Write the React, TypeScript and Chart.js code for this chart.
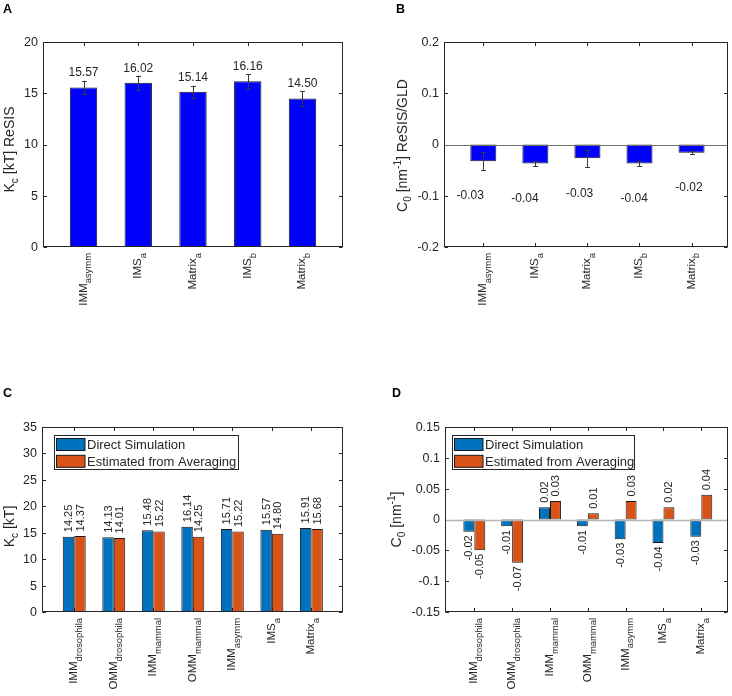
import React, { useEffect, useRef } from 'react';
import { Chart, registerables } from 'chart.js';

Chart.register(...registerables);

const FONT = '"Liberation Sans", Arial, Helvetica, sans-serif';
const INK = '#262626';
const W = 366;
const H = 348;

// ---------- Panel A / B data ----------
const categoriesAB = ['IMM_{asymm}', 'IMS_{a}', 'Matrix_{a}', 'IMS_{b}', 'Matrix_{b}'];
const kcReSIS = [15.57, 16.02, 15.14, 16.16, 14.5];
const kcReSISErr = [0.65, 0.7, 0.6, 0.72, 0.72];
const yTicksA = [0, 5, 10, 15, 20];

const c0ReSIS = [-0.0325, -0.037, -0.027, -0.037, -0.016];
const c0ReSISErr = [0.017, 0.005, 0.017, 0.0055, 0.003];
const yTicksB = [-0.2, -0.1, 0, 0.1, 0.2];

// ---------- Panel C / D data ----------
const categoriesCD = [
  'IMM_{drosophila}',
  'OMM_{drosophila}',
  'IMM_{mammal}',
  'OMM_{mammal}',
  'IMM_{asymm}',
  'IMS_{a}',
  'Matrix_{a}',
];
const seriesNames = ['Direct Simulation', 'Estimated from Averaging'];
const kcDirect = [14.25, 14.13, 15.48, 16.14, 15.71, 15.57, 15.91];
const kcAveraged = [14.37, 14.01, 15.22, 14.25, 15.22, 14.8, 15.68];
const yTicksC = [0, 5, 10, 15, 20, 25, 30, 35];
const c0Direct = [-0.02, -0.011, 0.02, -0.011, -0.032, -0.038, -0.028];
const c0Averaged = [-0.05, -0.07, 0.03, 0.01, 0.03, 0.02, 0.04];
const yTicksD = [-0.15, -0.1, -0.05, 0, 0.05, 0.1, 0.15];

type Series = { values: number[]; color: string; err?: number[]; name?: string };
type Panel = {
  letter: string;
  letterPos: [number, number];
  pos: [number, number];
  area: [number, number, number, number];
  xRange: [number, number];
  yRange: [number, number];
  yTicks: number[];
  categories: string[];
  series: Series[];
  groupWidth: number;
  barWidth: number;
  yTitle: string;
  yTitleX: number;
  yTitleShift: number;
  labelMode: 'above' | 'below' | 'rotated';
  labelSize: number;
  legend?: [number, number, number, number];
  baseline?: { color: string; width: number };
};

const BLUE_AB = '#0000ff';
const BLUE = '#0072bd';
const ORANGE = '#d95319';

const panels: Panel[] = [
  {
    letter: 'A',
    letterPos: [3, 12.5],
    pos: [0, 0],
    area: [43, 42, 343, 247],
    xRange: [0.26, 5.74],
    yRange: [0, 20],
    yTicks: yTicksA,
    categories: categoriesAB,
    series: [{ values: kcReSIS, color: BLUE_AB, err: kcReSISErr }],
    groupWidth: 1,
    barWidth: 0.5,
    yTitle: 'K_{c} [kT] ReSIS',
    yTitleX: 14,
    yTitleShift: 5,
    labelMode: 'above',
    labelSize: 12,
  },
  {
    letter: 'B',
    letterPos: [30, 12.5],
    pos: [366, 0],
    area: [78, 42, 362, 247],
    xRange: [0.245, 5.7],
    yRange: [-0.2, 0.2],
    yTicks: yTicksB,
    categories: categoriesAB,
    series: [{ values: c0ReSIS, color: BLUE_AB, err: c0ReSISErr }],
    groupWidth: 1,
    barWidth: 0.5,
    yTitle: 'C_{0} [nm^{-1}] ReSIS/GLD',
    yTitleX: 41,
    yTitleShift: 1,
    labelMode: 'below',
    labelSize: 12,
    baseline: { color: '#707070', width: 1 },
  },
  {
    letter: 'C',
    letterPos: [3, 48.5],
    pos: [0, 348],
    area: [42, 79, 343, 264],
    xRange: [0.184, 7.8],
    yRange: [0, 35],
    yTicks: yTicksC,
    categories: categoriesCD,
    series: [
      { values: kcDirect, color: BLUE, name: seriesNames[0] },
      { values: kcAveraged, color: ORANGE, name: seriesNames[1] },
    ],
    groupWidth: 0.58,
    barWidth: 1,
    yTitle: 'K_{c} [kT]',
    yTitleX: 14,
    yTitleShift: 7,
    labelMode: 'rotated',
    labelSize: 11,
    legend: [54, 87, 238, 121],
  },
  {
    letter: 'D',
    letterPos: [26, 48.5],
    pos: [366, 348],
    area: [79, 79, 362, 264],
    xRange: [0.225, 7.706],
    yRange: [-0.15, 0.15],
    yTicks: yTicksD,
    categories: categoriesCD,
    series: [
      { values: c0Direct, color: BLUE, name: seriesNames[0] },
      { values: c0Averaged, color: ORANGE, name: seriesNames[1] },
    ],
    groupWidth: 0.58,
    barWidth: 1,
    yTitle: 'C_{0} [nm^{-1}]',
    yTitleX: 35,
    yTitleShift: 0,
    labelMode: 'rotated',
    labelSize: 11,
    legend: [86, 87, 268, 121],
    baseline: { color: '#b4b4b4', width: 1.5 },
  },
];

type Part = { t: string; k: number };
function parseRich(s: string): Part[] {
  const parts: Part[] = [];
  let buf = '';
  let i = 0;
  while (i < s.length) {
    if ((s[i] === '_' || s[i] === '^') && s[i + 1] === '{') {
      if (buf) parts.push({ t: buf, k: 0 });
      buf = '';
      const end = s.indexOf('}', i);
      parts.push({ t: s.slice(i + 2, end), k: s[i] === '_' ? 1 : -1 });
      i = end + 1;
    } else {
      buf += s[i];
      i++;
    }
  }
  if (buf) parts.push({ t: buf, k: 0 });
  return parts;
}

function drawRich(
  ctx: CanvasRenderingContext2D,
  s: string,
  x: number,
  y: number,
  size: number,
  align: 'left' | 'center' | 'right',
  subRatio = 0.72,
  subShift = 0.33,
  supShift = 0.42
) {
  const parts = parseRich(s);
  const sizes = parts.map((p) => (p.k === 0 ? size : size * subRatio));
  const widths = parts.map((p, i) => {
    ctx.font = `${sizes[i]}px ${FONT}`;
    return ctx.measureText(p.t).width;
  });
  const total = widths.reduce((a, b) => a + b, 0);
  let cx = align === 'right' ? x - total : align === 'center' ? x - total / 2 : x;
  ctx.textAlign = 'left';
  ctx.textBaseline = 'alphabetic';
  parts.forEach((p, i) => {
    ctx.font = `${sizes[i]}px ${FONT}`;
    const dy = p.k === 1 ? size * subShift : p.k === -1 ? -size * supShift : 0;
    ctx.fillText(p.t, cx, y + dy);
    cx += widths[i];
  });
}

function drawUnder(chart: any, p: Panel) {
  const ctx: CanvasRenderingContext2D = chart.ctx;
  const xs = chart.scales.x;
  const ys = chart.scales.y;
  const { left, right, top, bottom } = chart.chartArea;
  const L = Math.round(left) + 0.5;
  const R = Math.round(right) - 0.5;
  const T = Math.round(top) + 0.5;
  const B = Math.round(bottom) - 0.5;
  const TL = 3.5;
  ctx.save();
  ctx.strokeStyle = INK;
  ctx.lineWidth = 1;
  ctx.beginPath();
  p.yTicks.forEach((v) => {
    const y = Math.round(ys.getPixelForValue(v)) + 0.5;
    ctx.moveTo(L, y);
    ctx.lineTo(L + TL, y);
    ctx.moveTo(R, y);
    ctx.lineTo(R - TL, y);
  });
  p.categories.forEach((_, i) => {
    const x = Math.round(xs.getPixelForValue(i + 1)) + 0.5;
    ctx.moveTo(x, T);
    ctx.lineTo(x, T + TL);
    ctx.moveTo(x, B);
    ctx.lineTo(x, B - TL);
  });
  ctx.stroke();
  ctx.restore();
}

function drawOver(chart: any, p: Panel) {
  const ctx: CanvasRenderingContext2D = chart.ctx;
  const xs = chart.scales.x;
  const ys = chart.scales.y;
  const { left, right, top, bottom } = chart.chartArea;
  const L = Math.round(left) + 0.5;
  const R = Math.round(right) - 0.5;
  const T = Math.round(top) + 0.5;
  const B = Math.round(bottom) - 0.5;
  ctx.save();

  // baseline at zero
  if (p.baseline) {
    const y0 = Math.round(ys.getPixelForValue(0)) + 0.5;
    ctx.strokeStyle = p.baseline.color;
    ctx.lineWidth = p.baseline.width;
    ctx.beginPath();
    ctx.moveTo(L, y0);
    ctx.lineTo(R, y0);
    ctx.stroke();
  }

  // error bars
  p.series.forEach((s, si) => {
    if (!s.err) return;
    const meta = chart.getDatasetMeta(si);
    ctx.strokeStyle = '#3a3a3a';
    ctx.lineWidth = 1;
    meta.data.forEach((el: any, i: number) => {
      const x = Math.round(el.x) + 0.5;
      const y1 = ys.getPixelForValue(s.values[i] + s.err![i]);
      const y2 = ys.getPixelForValue(s.values[i] - s.err![i]);
      ctx.beginPath();
      ctx.moveTo(x, y1);
      ctx.lineTo(x, y2);
      ctx.moveTo(x - 2.5, Math.round(y1) + 0.5);
      ctx.lineTo(x + 2.5, Math.round(y1) + 0.5);
      ctx.moveTo(x - 2.5, Math.round(y2) + 0.5);
      ctx.lineTo(x + 2.5, Math.round(y2) + 0.5);
      ctx.stroke();
    });
  });

  // axes box
  ctx.strokeStyle = INK;
  ctx.lineWidth = 1;
  ctx.strokeRect(L, T, R - L, B - T);

  ctx.fillStyle = INK;
  // y tick labels
  ctx.font = `12.5px ${FONT}`;
  ctx.textAlign = 'right';
  ctx.textBaseline = 'middle';
  p.yTicks.forEach((v) => {
    ctx.fillText(String(v), left - 5, ys.getPixelForValue(v) + 0.5);
  });

  // x tick labels (rotated, with subscripts)
  p.categories.forEach((c, i) => {
    const x = xs.getPixelForValue(i + 1);
    ctx.save();
    ctx.translate(x, bottom + 6);
    ctx.rotate(-Math.PI / 2);
    drawRich(ctx, c, 0, 3, 11.5, 'right', 0.82, 0.42);
    ctx.restore();
  });

  // y title
  ctx.save();
  ctx.translate(p.yTitleX, (top + bottom) / 2 + p.yTitleShift);
  ctx.rotate(-Math.PI / 2);
  drawRich(ctx, p.yTitle, 0, 0, 14, 'center', 0.72, 0.3, 0.42);
  ctx.restore();

  // value labels
  p.series.forEach((s, si) => {
    const meta = chart.getDatasetMeta(si);
    meta.data.forEach((el: any, i: number) => {
      const v = s.values[i];
      const txt = v.toFixed(2);
      ctx.font = `${p.labelSize}px ${FONT}`;
      if (p.labelMode === 'above') {
        ctx.textAlign = 'center';
        ctx.textBaseline = 'alphabetic';
        ctx.fillText(txt, el.x, ys.getPixelForValue(v) - 11);
      } else if (p.labelMode === 'below') {
        ctx.textAlign = 'center';
        ctx.textBaseline = 'middle';
        const lx = xs.getPixelForValue(1.05 * (i + 1) - 0.3);
        ctx.fillText(txt, lx, ys.getPixelForValue(v - 0.068));
      } else {
        ctx.save();
        if (v >= 0) {
          ctx.translate(el.x + 0.5, ys.getPixelForValue(v) - 4.5);
          ctx.rotate(-Math.PI / 2);
          ctx.textAlign = 'left';
        } else {
          ctx.translate(el.x + 0.5, ys.getPixelForValue(v) + 3.5);
          ctx.rotate(-Math.PI / 2);
          ctx.textAlign = 'right';
        }
        ctx.textBaseline = 'middle';
        ctx.fillText(txt, 0, 0);
        ctx.restore();
      }
    });
  });

  // legend
  if (p.legend) {
    const [gl, gt, gr, gb] = p.legend;
    ctx.fillStyle = '#ffffff';
    ctx.fillRect(gl, gt, gr - gl, gb - gt);
    ctx.strokeStyle = INK;
    ctx.lineWidth = 1;
    ctx.strokeRect(gl + 0.5, gt + 0.5, gr - gl, gb - gt);
    p.series.forEach((s, si) => {
      const cy = gt + 9.5 + si * 16.8;
      ctx.fillStyle = s.color;
      ctx.fillRect(gl + 2.5, cy - 6, 28.5, 12);
      ctx.strokeStyle = '#1a1a1a';
      ctx.strokeRect(gl + 2.5, cy - 6, 28.5, 12);
      ctx.fillStyle = INK;
      ctx.font = `13px ${FONT}`;
      ctx.textAlign = 'left';
      ctx.textBaseline = 'middle';
      ctx.fillText(s.name || '', gl + 33, cy + 1);
    });
  }

  // panel letter
  ctx.fillStyle = '#000000';
  ctx.font = `bold 12.5px ${FONT}`;
  ctx.textAlign = 'left';
  ctx.textBaseline = 'alphabetic';
  ctx.fillText(p.letter, p.letterPos[0], p.letterPos[1]);

  ctx.restore();
}

function PanelChart({ p }: { p: Panel }) {
  const ref = useRef<HTMLCanvasElement>(null);
  useEffect(() => {
    const canvas = ref.current;
    if (!canvas) return;
    const [l, t, r, b] = p.area;
    const chart = new Chart(canvas, {
      type: 'bar',
      data: {
        datasets: p.series.map((s) => ({
          data: s.values.map((v, i) => ({ x: i + 1, y: v })),
          backgroundColor: s.color,
          borderColor: '#1a1a1a',
          borderWidth: 1,
          borderSkipped: false,
          categoryPercentage: p.groupWidth,
          barPercentage: p.barWidth,
        })),
      } as any,
      options: {
        animation: false,
        responsive: false,
        maintainAspectRatio: false,
        events: [],
        layout: { padding: { left: l, top: t, right: W - r, bottom: H - b } },
        scales: {
          x: {
            type: 'linear',
            display: false,
            min: p.xRange[0],
            max: p.xRange[1],
            offset: false,
            ticks: { stepSize: 1, includeBounds: false },
          },
          y: { type: 'linear', display: false, min: p.yRange[0], max: p.yRange[1] },
        },
        plugins: { legend: { display: false }, tooltip: { enabled: false } },
      } as any,
      plugins: [
        {
          id: 'decor',
          beforeDatasetsDraw: (c: any) => drawUnder(c, p),
          afterDatasetsDraw: (c: any) => drawOver(c, p),
        },
      ],
    });
    return () => chart.destroy();
  }, [p]);
  return (
    <canvas
      ref={ref}
      width={W}
      height={H}
      style={{ position: 'absolute', left: p.pos[0], top: p.pos[1], width: W, height: H }}
    />
  );
}

export default function App() {
  return (
    <div style={{ position: 'absolute', left: 0, top: 0, width: 732, height: 696, background: '#fff' }}>
      {panels.map((p) => (
        <PanelChart key={p.letter} p={p} />
      ))}
    </div>
  );
}
